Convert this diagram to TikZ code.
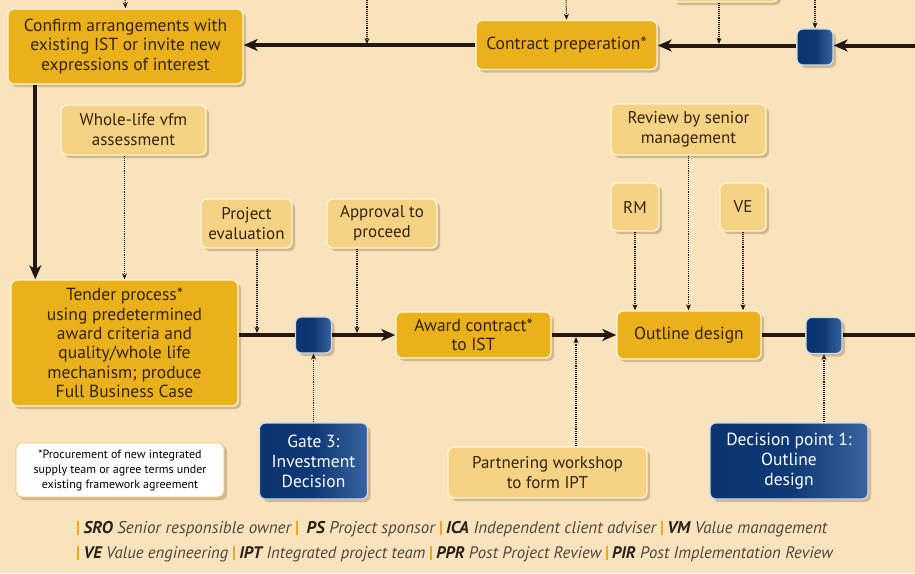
\documentclass[tikz,border=0pt]{standalone}
\usepackage{fontspec}
\setmainfont{PT Sans}
\usetikzlibrary{arrows.meta,shadows,calc}
\definecolor{bg}{HTML}{F9E3BD}
\definecolor{gold}{HTML}{EBB11A}
\definecolor{lgold}{HTML}{F6D285}
\definecolor{navy}{HTML}{0B3470}
\definecolor{navym}{HTML}{0D3876}
\definecolor{navyl}{HTML}{3A62A0}
\definecolor{ink}{HTML}{231815}
\definecolor{txt}{HTML}{33240E}
\definecolor{legtxt}{HTML}{4F463E}
\definecolor{legb}{HTML}{2A2018}
\definecolor{bar}{HTML}{E8A923}
\definecolor{cream}{HTML}{FFF4D2}
\definecolor{sky}{HTML}{C9D9EE}
\definecolor{shad}{HTML}{6B4A1A}
\tikzset{
  base/.style={rounded corners=6pt, align=center, inner sep=0pt,
    drop shadow={shadow xshift=3pt, shadow yshift=-3pt, opacity=0.28, fill=shad}},
  darkbox/.style={base, fill=gold, draw=cream, line width=1.4pt, text=txt,
    font=\fontsize{17.5pt}{19.3pt}\selectfont},
  lightbox/.style={base, fill=lgold, draw=cream, line width=1.4pt, text=txt,
    font=\fontsize{17pt}{20pt}\selectfont},
  navyshade/.style={left color=navy, right color=navyl, middle color=navym},
  bluebox/.style={base, navyshade, draw=sky, line width=1.2pt, text=white,
    font=\fontsize{17.5pt}{20pt}\selectfont},
  sqbox/.style={base, navyshade, draw=sky, line width=1.2pt,
    minimum width=36pt, minimum height=36pt},
  notebox/.style={base, fill=white, draw=bar!70, line width=0.8pt, text=black,
    font=\fontsize{12pt}{15pt}\selectfont},
  thk/.style={draw=ink, line width=4pt},
  thka/.style={thk, -{Stealth[length=14pt,width=12pt,inset=4pt]}},
  dots/.style={draw=ink, line width=1.1pt, densely dotted,
    -{Stealth[length=6pt,width=5pt]}},
  leg/.style={anchor=west, inner sep=0pt, text=legtxt, font=\itshape}
}
\newcommand{\lbar}{\textcolor{bar}{\rule[-2pt]{2pt}{14pt}}}
\newcommand{\lab}[1]{\textcolor{legb}{\textbf{#1}}}
\begin{document}
\begin{tikzpicture}[x=1pt,y=-1pt]
\useasboundingbox (0,0) rectangle (915,573);
\clip (0,0) rectangle (915,573);
\fill[bg] (0,0) rectangle (915,573);

% coordinates for free ends
\coordinate (eR1) at (915,45.5);
\coordinate (eR2) at (915,335);
\coordinate (t1) at (125,-2);
\coordinate (t2) at (367,-2);
\coordinate (t3) at (566,-2);
\coordinate (t5) at (815,-2);
\coordinate (j2) at (367,44);
\coordinate (j4) at (719,44);
\coordinate (j5) at (257,333);
\coordinate (j6) at (357,333);
\coordinate (j7) at (576,337);

% top row
\node[darkbox, minimum width=235pt, minimum height=75pt] (confirm) at (125.5,46.5)
  {Confirm arrangements with\\existing IST or invite new\\expressions of interest};
\node[darkbox, minimum width=181pt, minimum height=49pt] (contract) at (566.5,45)
  {Contract preperation*};
\node[lightbox, minimum width=106pt, minimum height=52pt] (topbox) at (725,-24) {};
\node[sqbox] (sq1) at (815,47) {};

% middle labels
\node[lightbox, minimum width=145pt, minimum height=50pt] (vfm) at (133.5,130)
  {Whole-life vfm\\assessment};
\node[lightbox, minimum width=155pt, minimum height=51pt] (review) at (688.5,129.5)
  {Review by senior\\management};
\node[lightbox, minimum width=91pt, minimum height=49pt] (peval) at (246.5,223.5)
  {Project\\evaluation};
\node[lightbox, minimum width=110pt, minimum height=49pt] (appr) at (382,223.5)
  {Approval to\\proceed};
\node[lightbox, minimum width=48pt, minimum height=48pt] (rm) at (635,207) {RM};
\node[lightbox, minimum width=46pt, minimum height=48pt] (ve) at (743,207) {VE};

% second row
\node[darkbox, minimum width=227pt, minimum height=126pt] (tender) at (124.5,343)
  {Tender process*\\using predetermined\\award criteria and\\quality/whole life\\mechanism; produce\\Full Business Case};
\node[sqbox] (sq2) at (313.5,335) {};
\node[darkbox, minimum width=155pt, minimum height=46pt] (award) at (473.5,335)
  {Award contract*\\to IST};
\node[darkbox, minimum width=144pt, minimum height=48pt] (outline) at (689,335)
  {Outline design};
\node[sqbox] (sq3) at (824,335.5) {};

% bottom row
\node[notebox, minimum width=208pt, minimum height=54pt] (foot) at (120,470)
  {*Procurement of new integrated\\supply team or agree terms under\\existing framework agreement};
\node[bluebox, minimum width=108pt, minimum height=76pt] (gate3) at (313.5,461)
  {Gate 3:\\Investment\\Decision};
\node[lightbox, minimum width=199pt, minimum height=51pt] (partner) at (547.5,472.5)
  {Partnering workshop\\to form IPT};
\node[bluebox, minimum width=158pt, minimum height=76pt] (dp1) at (789,461)
  {Decision point 1:\\Outline\\design};

% thick connectors
\draw[thka] (eR1) -- (sq1.east |- eR1);
\draw[thka] (sq1.west |- eR1) -- (contract.east |- eR1) ;
\draw[thka] (contract.west) -- (contract.west -| confirm.east);
\draw[thka] ([xshift=28pt]confirm.south west) -- ([xshift=25pt]tender.north west);
\draw[thk] (tender.east |- sq2.west) -- (sq2.west);
\draw[thka] (sq2.east) -- (award.west);
\draw[thka] (award.east) -- (outline.west);
\draw[thk] (outline.east) -- (sq3.west |- outline.east);
\draw[thk] (sq3.east |- eR2) -- (eR2);

% dotted connectors
\draw[dots] (t1) -- (confirm.north);
\draw[dots] (t2) -- (j2);
\draw[dots] (t3) -- (contract.north);
\draw[dots] (topbox.south -| j4) -- (j4);
\draw[dots] (t5) -- (sq1.north);
\draw[dots] (vfm.south -| tender.north) -- (tender.north);
\draw[dots] (peval.south -| j5) -- (j5);
\draw[dots] (appr.south -| j6) -- (j6);
\draw[dots] (gate3.north) -- (sq2.south);
\draw[dots] (partner.north -| j7) -- (j7);
\draw[dots] (rm.south) -- (rm.south |- outline.north);
\draw[dots] (review.south) -- (review.south |- outline.north);
\draw[dots] (ve.south) -- (ve.south |- outline.north);
\draw[dots] (dp1.north -| sq3.south) -- (sq3.south);

% legend
\node[leg, font=\fontsize{17pt}{19pt}\selectfont\itshape] (leg1) at (77,529)
  {\lbar\ \lab{SRO} Senior responsible owner \lbar\ \ \lab{PS} Project sponsor \lbar\ \lab{ICA} Independent client adviser \lbar\ \lab{VM} Value management};
\node[leg, font=\fontsize{16.7pt}{19pt}\selectfont\itshape] (leg2) at (77,554)
  {\lbar\ \lab{VE} Value engineering \lbar\ \lab{IPT} Integrated project team \lbar\ \lab{PPR} Post Project Review \lbar\ \lab{PIR} Post Implementation Review};
\end{tikzpicture}
\end{document}
